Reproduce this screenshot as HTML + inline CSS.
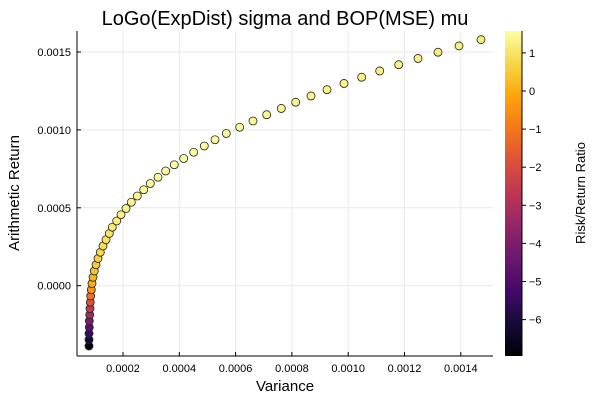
<!DOCTYPE html>
<html><head><meta charset="utf-8"><style>body{margin:0;background:#fff}svg{display:block;font-family:"Liberation Sans","DejaVu Sans",sans-serif}</style></head>
<body>
<svg id="s" width="600" height="400" viewBox="0 0 600 400" xmlns="http://www.w3.org/2000/svg">
<defs>
<linearGradient id="cb" x1="0" y1="1" x2="0" y2="0">
<stop offset="0" stop-color="#000004"/><stop offset="0.1" stop-color="#160b39"/><stop offset="0.2" stop-color="#420a68"/><stop offset="0.3" stop-color="#6a176e"/><stop offset="0.4" stop-color="#932667"/><stop offset="0.5" stop-color="#bc3754"/><stop offset="0.6" stop-color="#dd513a"/><stop offset="0.7" stop-color="#f37819"/><stop offset="0.8" stop-color="#fca50a"/><stop offset="0.9" stop-color="#f6d746"/><stop offset="1" stop-color="#fcffa4"/>
</linearGradient>
</defs>
<text x="285" y="25" font-size="20" text-anchor="middle" fill="#000">LoGo(ExpDist) sigma and BOP(MSE) mu</text>
<g id="grid" stroke="#e9e9e9" stroke-width="1"></g>
<line x1="77" y1="356" x2="493" y2="356" stroke="#000"/>
<line x1="77" y1="31" x2="77" y2="356" stroke="#000"/>
<g id="ticks"></g>
<g id="pts"></g>
<rect x="505" y="31" width="17" height="325" fill="url(#cb)"/>
<line x1="522" y1="31" x2="522" y2="356" stroke="#000"/>
<g id="cbt"></g>
<text x="285" y="391" font-size="15" text-anchor="middle">Variance</text>
<text transform="translate(19,193) rotate(-90)" font-size="15" text-anchor="middle">Arithmetic Return</text>
<text transform="translate(585,193) rotate(-90)" font-size="13" text-anchor="middle">Risk/Return Ratio</text>
</svg>
<script>
var NS="http://www.w3.org/2000/svg";
function el(p,t,a,txt){var e=document.createElementNS(NS,t);for(var k in a)e.setAttribute(k,a[k]);if(txt!==undefined)e.textContent=txt;document.getElementById(p).appendChild(e);return e;}
for(var i=1;i<=7;i++){var x=66.7+i*56.3;el("grid","line",{x1:x,y1:31,x2:x,y2:356});el("ticks","line",{x1:x,y1:356,x2:x,y2:352,stroke:"#000"});el("ticks","text",{x:x,y:372,"font-size":11,"text-anchor":"middle"},(i*0.0002).toFixed(4));}
var yv=[0,0.0005,0.001,0.0015];
yv.forEach(function(v){var y=285.7-v/0.0005*77.9;el("grid","line",{x1:77,y1:y,x2:493,y2:y});el("ticks","line",{x1:77,y1:y,x2:81,y2:y,stroke:"#000"});el("ticks","text",{x:71,y:y+4,"font-size":11,"text-anchor":"end"},v.toFixed(4));});
for(var v=-6;v<=1;v++){var y=91-v*38.1;el("cbt","line",{x1:522,y1:y,x2:526,y2:y,stroke:"#000"});el("cbt","text",{x:529,y:y+4,"font-size":11},(v<0?"\u2212"+(-v):""+v));}
var xs=[89,89,89,89.3,89.3,89.7,90,90.3,90.7,91.3,92,93,94.3,96,98,100.3,103,106,109.3,112.3,116.7,121,126,131.3,137.3,143.7,150.3,158,165.7,174.3,183.7,193.7,204.3,215,226.3,239.7,253,266.7,281.3,295.7,311,327,344,361.7,379.7,398.7,418,438,459,481];
var stops=[[0,0,0,4],[.1,22,11,57],[.2,66,10,104],[.3,106,23,110],[.4,147,38,103],[.5,188,55,84],[.6,221,81,58],[.7,243,120,25],[.8,252,165,10],[.9,246,215,70],[1,252,255,164]];
function cm(t){t=Math.max(0,Math.min(1,t));for(var i=1;i<stops.length;i++){if(t<=stops[i][0]){var a=stops[i-1],b=stops[i],f=(t-a[0])/(b[0]-a[0]);return "rgb("+[1,2,3].map(function(k){return Math.round(a[k]+f*(b[k]-a[k]))}).join(",")+")";}}return "rgb(252,255,164)";}
var data=[],mn=0,mx=0;
for(var i=0;i<50;i++){var y=346-i*(346-39.7)/49;var r=(285.7-y)/77.9*0.0005;var vr=(xs[i]-66.7)/56.3*0.0002;var s=r/Math.sqrt(vr);data.push([xs[i],y,s,i]);mn=Math.min(mn,s);mx=Math.max(mx,s);}
data.forEach(function(d){var val;if(d[2]<0)val=d[2]/mn*(-6.96);else{val=d[2]/mx*1.57;if(d[3]>27)val=1.57*(1-0.24*(d[3]-27)/22);}var t=(val+6.96)/(1.57+6.96);el("pts","circle",{cx:d[0],cy:d[1],r:4,fill:cm(t),stroke:"#222","stroke-width":0.8});});
</script>
</body></html>
